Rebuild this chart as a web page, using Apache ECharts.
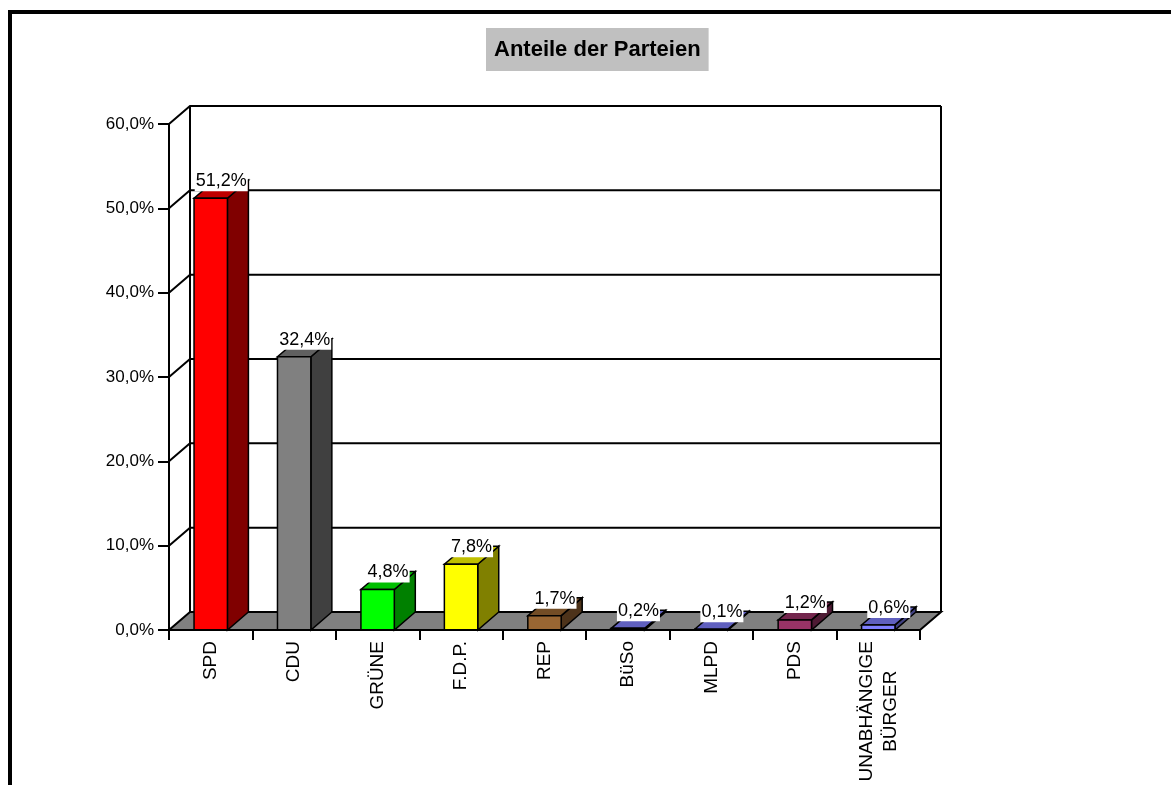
<!DOCTYPE html>
<html><head>
<meta charset="utf-8">
<title>Anteile der Parteien</title>
<script src="https://cdn.jsdelivr.net/npm/echarts@6/dist/echarts.min.js"></script>
<style>
html,body{margin:0;padding:0;background:#fff;}
#main{width:1171px;height:785px;}
</style>
</head>
<body>
<div id="main"></div>
<script type="text/javascript">
// Daten
var categories = ['SPD', 'CDU', 'GRÜNE', 'F.D.P.', 'REP', 'BüSo', 'MLPD', 'PDS', 'UNABHÄNGIGE\nBÜRGER'];
var shares = [51.2, 32.4, 4.8, 7.8, 1.7, 0.2, 0.1, 1.2, 0.6];
var yTicks = [0, 10, 20, 30, 40, 50, 60];
var barColors = ['#FF0000', '#808080', '#00FF00', '#FFFF00', '#996633', '#8080FF', '#8080FF', '#993366', '#8080FF'];

var FONT = '"Liberation Sans", Arial, sans-serif';
var DX = 21, DY = -18;   // Tiefe der 3D-Darstellung

function shade(hex, k) {
    var n = parseInt(hex.slice(1), 16);
    var r = Math.round(((n >> 16) & 255) * k);
    var g = Math.round(((n >> 8) & 255) * k);
    var b = Math.round((n & 255) * k);
    return 'rgb(' + r + ',' + g + ',' + b + ')';
}
function pct(v) {
    return v.toFixed(1).replace('.', ',') + '%';
}

var myChart = echarts.init(document.getElementById('main'));

// Rueckwand + linke Wand: Gitterlinien
function renderGrid(params, api) {
    var t = api.value(1);
    if (t === 0) return null;
    var cs = params.coordSys;
    var y = api.coord([0, t])[1];
    var L = cs.x, R = cs.x + cs.width;
    return {
        type: 'polyline',
        shape: { points: [[L, y], [L + DX, y + DY], [R + DX, y + DY]] },
        style: { stroke: '#000', lineWidth: 2, fill: null }
    };
}

// Boden und Kanten der Rueckwand
function renderFrame(params, api) {
    var cs = params.coordSys;
    var L = cs.x, R = cs.x + cs.width;
    var y0 = api.coord([0, yTicks[0]])[1];
    var yT = api.coord([0, yTicks[yTicks.length - 1]])[1];
    return {
        type: 'group',
        children: [
            { type: 'line', shape: { x1: L + DX, y1: yT + DY, x2: L + DX, y2: y0 + DY }, style: { stroke: '#000', lineWidth: 2 } },
            { type: 'line', shape: { x1: R + DX, y1: yT + DY, x2: R + DX, y2: y0 + DY }, style: { stroke: '#000', lineWidth: 2 } },
            { type: 'polygon', shape: { points: [[L, y0], [R, y0], [R + DX, y0 + DY], [L + DX, y0 + DY]] },
              style: { fill: '#808080', stroke: '#000', lineWidth: 2 } }
        ]
    };
}

function renderBar(params, api) {
    var i = api.value(0), v = api.value(1);
    var base = api.coord([i, 0]);
    var top = api.coord([i, v]);
    var bw = api.size([1, 0])[0] * 0.4;
    var x0 = base[0] - bw / 2, x1 = base[0] + bw / 2;
    var c = barColors[params.dataIndex];
    return {
        type: 'group',
        children: [
            { type: 'polygon', shape: { points: [[x1, top[1]], [x1 + DX, top[1] + DY], [x1 + DX, base[1] + DY], [x1, base[1]]] },
              style: { fill: shade(c, 0.5), stroke: '#000', lineWidth: 1.5 } },
            { type: 'polygon', shape: { points: [[x0, top[1]], [x1, top[1]], [x1 + DX, top[1] + DY], [x0 + DX, top[1] + DY]] },
              style: { fill: shade(c, 0.75), stroke: '#000', lineWidth: 1.5 } },
            { type: 'rect', shape: { x: x0, y: top[1], width: bw, height: base[1] - top[1] },
              style: { fill: c, stroke: '#000', lineWidth: 1.5 } },
            { type: 'text', x: (x0 + x1 + DX) / 2, y: top[1] + DY + 1,
              style: { text: pct(v), font: '18px ' + FONT, fill: '#000', align: 'center', verticalAlign: 'middle',
                       backgroundColor: '#fff', padding: [1, 1] } }
        ]
    };
}

option = {
    backgroundColor: '#fff',
    animation: false,
    title: {
        text: 'Anteile der Parteien',
        left: 486,
        top: 28,
        padding: [10, 8, 10, 8],
        backgroundColor: '#C0C0C0',
        textStyle: { fontSize: 22, fontWeight: 'bold', fontFamily: FONT, color: '#000', lineHeight: 23 }
    },
    graphic: [{
        type: 'rect',
        shape: { x: 10, y: 12, width: 1400, height: 1000 },
        style: { fill: null, stroke: '#000', lineWidth: 4 },
        z: 100
    }],
    grid: { left: 169, right: 251, top: 124, bottom: 155, containLabel: false, outerBoundsMode: 'none' },
    xAxis: {
        type: 'category',
        data: categories,
        z: 5,
        axisLine: { show: true, lineStyle: { color: '#000', width: 2 } },
        axisTick: { show: true, length: 10, lineStyle: { color: '#000', width: 2 } },
        axisLabel: {
            interval: 0,
            rotate: 90,
            margin: 11,
            color: '#000',
            fontFamily: FONT,
            fontSize: 19,
            formatter: function (v) {
                return v.split('\n').map(function (s) { return '{c|' + s + '}'; }).join('\n');
            },
            rich: { c: { align: 'center', fontSize: 19, fontFamily: FONT, color: '#000', lineHeight: 24 } }
        },
        splitLine: { show: false }
    },
    yAxis: {
        type: 'value',
        min: 0,
        max: 60,
        interval: 10,
        z: 5,
        axisLine: { show: true, lineStyle: { color: '#000', width: 2 } },
        axisTick: { show: true, length: 11, lineStyle: { color: '#000', width: 2 } },
        axisLabel: { margin: 15, color: '#000', fontFamily: FONT, fontSize: 17, formatter: pct },
        splitLine: { show: false }
    },
    series: [
        {
            name: 'grid',
            type: 'custom',
            clip: false,
            silent: true,
            z: 1,
            renderItem: renderGrid,
            encode: { x: 0, y: 1 },
            data: yTicks.map(function (t) { return [0, t]; })
        },
        {
            name: 'frame',
            type: 'custom',
            clip: false,
            silent: true,
            z: 2,
            renderItem: renderFrame,
            encode: { x: 0, y: 1 },
            data: [[0, 0]]
        },
        {
            name: 'Anteile',
            type: 'custom',
            clip: false,
            z: 3,
            renderItem: renderBar,
            encode: { x: 0, y: 1 },
            data: categories.map(function (c, i) { return [i, shares[i]]; })
        }
    ]
};

myChart.setOption(option);
</script>
</body>
</html>
